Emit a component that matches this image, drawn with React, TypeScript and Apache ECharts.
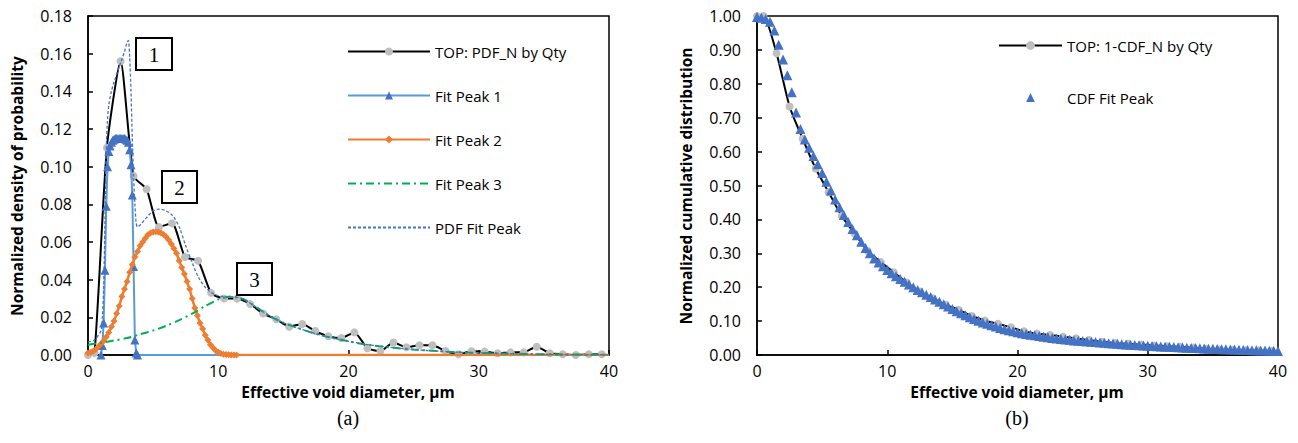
import React, { useEffect, useRef } from "react";
import * as echarts from "echarts";

// ---------- Left chart (a) data ----------
const pdfX = [0, 0.5, 1.45, 2.5, 3.5, 4.5, 5.45, 6.45, 7.45, 8.45, 9.45, 10.45, 11.45, 12.45, 13.45, 14.45, 15.45, 16.45, 17.45, 18.45, 19.45, 20.45, 21.45, 22.45, 23.45, 24.45, 25.45, 26.45, 27.45, 28.45, 29.45, 30.45, 31.45, 32.45, 33.45, 34.45, 35.45, 36.45, 37.45, 38.45, 39.45];
const pdfY = [0, 0.001, 0.110, 0.156, 0.095, 0.088, 0.068, 0.070, 0.052, 0.050, 0.033, 0.030, 0.030, 0.027, 0.022, 0.019, 0.015, 0.0165, 0.0127, 0.010, 0.009, 0.012, 0.0036, 0.0021, 0.0066, 0.0041, 0.0052, 0.0052, 0.0021, 0.0004, 0.002, 0.0018, 0.0009, 0.0014, 0.0014, 0.0044, 0.0009, 0.0004, 0.0, 0.0004, 0.0004];

const peak1X = [1.0, 1.1, 1.2, 1.3, 1.4, 1.5, 1.6, 1.7, 1.8, 1.9, 2.0, 2.1, 2.2, 2.3, 2.4, 2.5, 2.6, 2.7, 2.8, 2.9, 3.0, 3.1, 3.2, 3.3, 3.4, 3.5, 3.6, 3.7, 3.8, 40];
const peak1Y = [0, 0.005, 0.017, 0.045, 0.079, 0.100, 0.108, 0.111, 0.113, 0.114, 0.1145, 0.115, 0.115, 0.115, 0.115, 0.115, 0.115, 0.115, 0.115, 0.1145, 0.114, 0.113, 0.109, 0.101, 0.085, 0.047, 0.008, 0.001, 0, 0];

const peak2Start = 0;
const peak2Step = 0.2;
const peak2Y = [0.001, 0.0015, 0.002, 0.003, 0.0045, 0.006, 0.0075, 0.0095, 0.012, 0.015, 0.018, 0.022, 0.026, 0.031, 0.035, 0.039, 0.044, 0.048, 0.052, 0.055, 0.058, 0.060, 0.062, 0.0638, 0.0648, 0.0653, 0.0655, 0.0653, 0.0648, 0.064, 0.0628, 0.061, 0.059, 0.0565, 0.054, 0.050, 0.0465, 0.043, 0.039, 0.035, 0.030, 0.025, 0.021, 0.017, 0.014, 0.0105, 0.008, 0.0055, 0.0038, 0.0024, 0.0015, 0.0008, 0.0004, 0.0002, 0.0001, 0, 0, 0];
const peak2TailX = 40;
const peak2TailY = 0;

const peak3X = [0, 1, 2, 3, 4, 5, 6, 7, 8, 9, 10, 10.5, 11, 11.5, 12, 13, 14, 15, 16, 17, 18, 19, 20, 21, 22, 23, 24, 25, 26, 27, 28, 29, 30, 32, 34, 36, 38, 40];
const peak3Y = [0.0055, 0.0065, 0.0077, 0.009, 0.011, 0.013, 0.0155, 0.0185, 0.022, 0.026, 0.0295, 0.0305, 0.031, 0.0305, 0.0295, 0.025, 0.0205, 0.0172, 0.0146, 0.0123, 0.0103, 0.0087, 0.0073, 0.006, 0.005, 0.0042, 0.0035, 0.0029, 0.0024, 0.002, 0.0016, 0.0013, 0.0011, 0.0008, 0.0005, 0.0003, 0.0002, 0.0001];

const pdfFitX = [0, 0.5, 1.0, 1.1, 1.2, 1.3, 1.4, 1.5, 1.6, 1.8, 2.0, 2.2, 2.4, 2.6, 2.8, 3.0, 3.1, 3.2, 3.3, 3.4, 3.5, 3.6, 3.7, 3.8, 4.0, 4.5, 5.0, 5.5, 6.0, 6.5, 7.0, 7.5, 8.0, 8.5, 9.0, 9.5, 10, 10.5, 11, 11.5, 12, 13, 14, 15, 16, 17, 18, 19, 20, 21, 22, 23, 24, 25, 26, 27, 28, 29, 30, 32, 34, 36, 38, 40];
const pdfFitY = [0.007, 0.008, 0.013, 0.02, 0.035, 0.07, 0.11, 0.125, 0.133, 0.140, 0.145, 0.149, 0.153, 0.157, 0.161, 0.166, 0.167, 0.158, 0.14, 0.115, 0.095, 0.08, 0.07, 0.068, 0.069, 0.073, 0.0765, 0.0775, 0.0765, 0.074, 0.068, 0.058, 0.049, 0.041, 0.036, 0.033, 0.0315, 0.031, 0.031, 0.0305, 0.0295, 0.025, 0.0205, 0.0172, 0.0146, 0.0123, 0.0103, 0.0087, 0.0073, 0.006, 0.005, 0.0042, 0.0035, 0.0029, 0.0024, 0.002, 0.0016, 0.0013, 0.0011, 0.0008, 0.0005, 0.0003, 0.0002, 0.0001];

// ---------- Right chart (b) data ----------
const cdfX = [0, 0.5, 1.5, 2.5, 3.5, 4.5, 5.5, 6.5, 7.5, 8.5, 9.5, 10.5, 11.5, 12.5, 13.5, 14.5, 15.5, 16.5, 17.5, 18.5, 19.5, 20.5, 21.5, 22.5, 23.5, 24.5, 25.5, 26.5, 27.5, 28.5, 29.5, 30.5, 31.5, 32.5, 33.5, 34.5, 35.5, 36.5, 37.5, 38.5, 39.5];
const cdfY = [1.0, 1.0, 0.89, 0.733, 0.638, 0.55, 0.48, 0.41, 0.358, 0.307, 0.274, 0.244, 0.214, 0.187, 0.167, 0.148, 0.133, 0.115, 0.102, 0.092, 0.082, 0.070, 0.063, 0.059, 0.054, 0.049, 0.044, 0.039, 0.035, 0.033, 0.031, 0.028, 0.026, 0.024, 0.022, 0.018, 0.016, 0.015, 0.014, 0.013, 0.012];

const cdfFitStart = 0;
const cdfFitStep = 1 / 3;
const cdfFitY = [
  0.997, 0.995, 0.991, 0.983, 0.957, 0.915, 0.872, 0.825, 0.775, 0.715,
  0.667, 0.636, 0.611, 0.587, 0.563, 0.537, 0.511, 0.485, 0.459, 0.436,
  0.413, 0.392, 0.372, 0.353, 0.334, 0.316, 0.300, 0.285, 0.273, 0.262,
  0.251, 0.241, 0.232, 0.224, 0.216, 0.208, 0.200, 0.192, 0.185, 0.178,
  0.171, 0.164, 0.157, 0.150, 0.143, 0.136, 0.129, 0.123, 0.117, 0.111,
  0.106, 0.101, 0.096, 0.092, 0.088, 0.084, 0.080, 0.076, 0.073, 0.070,
  0.067, 0.064, 0.062, 0.060, 0.058, 0.056, 0.054, 0.052, 0.050, 0.049,
  0.047, 0.046, 0.045, 0.043, 0.042, 0.041, 0.040, 0.039, 0.038, 0.037,
  0.036, 0.035, 0.034, 0.033, 0.032, 0.031, 0.030, 0.0295, 0.029, 0.028,
  0.027, 0.0265, 0.026, 0.025, 0.0245, 0.024, 0.0233, 0.0227, 0.022, 0.0214,
  0.0208, 0.0203, 0.0198, 0.0193, 0.0188, 0.0183, 0.0178, 0.0173, 0.0168, 0.0164,
  0.016, 0.0155, 0.0151, 0.0147, 0.0143, 0.0139, 0.0135, 0.0131, 0.0127, 0.0123,
  0.012,
];

const xTicks = { min: 0, max: 40, interval: 10 };
const leftY = { min: 0, max: 0.18, interval: 0.02 };
const rightY = { min: 0, max: 1, interval: 0.1 };

const FONT = '"Open Sans", "Noto Sans", sans-serif';
const SERIF = '"Liberation Serif", "DejaVu Serif", serif';

const zip = (xs: number[], ys: number[]) => xs.map((x, i) => [x, ys[i]]);
const stepped = (start: number, step: number, ys: number[]) => ys.map((y, i) => [start + i * step, y]);

function axisX(gridIndex: number) {
  return {
    type: "value",
    gridIndex,
    min: xTicks.min,
    max: xTicks.max,
    interval: xTicks.interval,
    splitLine: { show: false },
    axisLine: { show: true, lineStyle: { color: "#000", width: 1.5 } },
    axisTick: { show: true, inside: true, length: 5, lineStyle: { color: "#000", width: 1.5 } },
    axisLabel: { color: "#000", fontFamily: FONT, fontSize: 16, margin: 8 },
  };
}
function axisY(gridIndex: number, r: { min: number; max: number; interval: number }) {
  return {
    type: "value",
    gridIndex,
    min: r.min,
    max: r.max,
    interval: r.interval,
    splitLine: { show: false },
    axisLine: { show: true, lineStyle: { color: "#000", width: 1.5 } },
    axisTick: { show: true, inside: true, length: 5, lineStyle: { color: "#000", width: 1.5 } },
    axisLabel: { color: "#000", fontFamily: FONT, fontSize: 16, margin: 16, formatter: (v: number) => v.toFixed(2) },
  };
}

function textEl(x: number, y: number, text: string, font: string, rotation = 0) {
  return {
    type: "text",
    x,
    y,
    rotation,
    style: {
      text,
      font,
      fill: "#000",
      align: "center",
      verticalAlign: "middle",
      textAlign: "center",
      textVerticalAlign: "middle",
    },
    z: 100,
  };
}

function boxEl(cx: number, cy: number, w: number, h: number, label: string) {
  return [
    {
      type: "rect",
      shape: { x: cx - w / 2, y: cy - h / 2, width: w, height: h },
      style: { fill: "#fff", stroke: "#000", lineWidth: 2 },
      z: 100,
    },
    textEl(cx, cy + 1, label, `21px ${SERIF}`),
  ];
}

export default function App() {
  const ref = useRef<HTMLDivElement>(null);
  useEffect(() => {
    if (!ref.current) return;
    const chart = echarts.init(ref.current, null, { renderer: "svg" });

    const peak1Data = zip(peak1X, peak1Y).map((p) =>
      p[0] === 40 ? { value: p, symbol: "none" } : { value: p }
    );
    const peak2Data: any[] = stepped(peak2Start, peak2Step, peak2Y).map((p) => ({ value: p }));
    peak2Data.push({ value: [peak2TailX, peak2TailY], symbol: "none" });

    const option: any = {
      animation: false,
      backgroundColor: "#fff",
      grid: [
        { left: 88, top: 16, width: 521, height: 339, show: true, borderColor: "#000", borderWidth: 1.5, containLabel: false },
        { left: 757, top: 16, width: 521, height: 339, show: true, borderColor: "#000", borderWidth: 1.5, containLabel: false },
      ],
      xAxis: [axisX(0), axisX(1)],
      yAxis: [axisY(0, leftY), axisY(1, rightY)],
      legend: [
        {
          orient: "vertical",
          left: 342,
          top: 39,
          itemWidth: 82,
          itemHeight: 10,
          itemGap: 29,
          textStyle: { fontFamily: FONT, fontSize: 15, color: "#000" },
          data: [
            "TOP: PDF_N by Qty",
            "Fit Peak 1",
            "Fit Peak 2",
            { name: "Fit Peak 3", itemStyle: { opacity: 0 } },
            { name: "PDF Fit Peak", itemStyle: { opacity: 0 } },
          ],
        },
        {
          orient: "vertical",
          left: 993,
          top: 33,
          itemWidth: 63,
          itemHeight: 11,
          itemGap: 37,
          textStyle: { fontFamily: FONT, fontSize: 15, color: "#000" },
          data: ["TOP: 1-CDF_N by Qty", "CDF Fit Peak"],
        },
      ],
      series: [
        {
          name: "TOP: PDF_N by Qty",
          type: "line",
          xAxisIndex: 0,
          yAxisIndex: 0,
          data: zip(pdfX, pdfY),
          smooth: 0.2,
          symbol: "circle",
          symbolSize: 8,
          showSymbol: true,
          lineStyle: { color: "#000", width: 2 },
          itemStyle: { color: "#BFBFBF", borderWidth: 0 },
          z: 2,
        },
        {
          name: "Fit Peak 1",
          type: "line",
          xAxisIndex: 0,
          yAxisIndex: 0,
          data: peak1Data,
          symbol: "triangle",
          symbolSize: 9,
          showSymbol: true,
          lineStyle: { color: "#5B9BD5", width: 2 },
          itemStyle: { color: "#4472C4", borderWidth: 0 },
          z: 3,
        },
        {
          name: "Fit Peak 2",
          type: "line",
          xAxisIndex: 0,
          yAxisIndex: 0,
          data: peak2Data,
          symbol: "diamond",
          symbolSize: 7,
          showSymbol: true,
          lineStyle: { color: "#ED7D31", width: 2.5 },
          itemStyle: { color: "#ED7D31", borderWidth: 0 },
          z: 4,
        },
        {
          name: "Fit Peak 3",
          type: "line",
          xAxisIndex: 0,
          yAxisIndex: 0,
          data: zip(peak3X, peak3Y),
          smooth: 0.3,
          symbol: "none",
          lineStyle: { color: "#00B050", width: 2, type: [8, 4, 2, 4] },
          itemStyle: { color: "#00B050" },
          z: 5,
        },
        {
          name: "PDF Fit Peak",
          type: "line",
          xAxisIndex: 0,
          yAxisIndex: 0,
          data: zip(pdfFitX, pdfFitY),
          smooth: 0.3,
          symbol: "none",
          lineStyle: { color: "#4472C4", width: 1.3, type: [3, 2] },
          itemStyle: { color: "#4472C4" },
          z: 6,
        },
        {
          name: "TOP: 1-CDF_N by Qty",
          type: "line",
          xAxisIndex: 1,
          yAxisIndex: 1,
          data: zip(cdfX, cdfY),
          smooth: 0.2,
          symbol: "circle",
          symbolSize: 8,
          showSymbol: true,
          lineStyle: { color: "#000", width: 2 },
          itemStyle: { color: "#BFBFBF", borderWidth: 0 },
          z: 2,
        },
        {
          name: "CDF Fit Peak",
          type: "line",
          xAxisIndex: 1,
          yAxisIndex: 1,
          data: stepped(cdfFitStart, cdfFitStep, cdfFitY),
          symbol: "triangle",
          symbolSize: 10,
          showSymbol: true,
          lineStyle: { color: "#4472C4", width: 0, opacity: 0 },
          itemStyle: { color: "#4472C4", borderWidth: 0 },
          z: 3,
        },
      ],
      graphic: [
        textEl(17, 186, "Normalized density of probability", `bold 15.5px ${FONT}`, Math.PI / 2),
        textEl(686, 186, "Normalized cumulative distribution", `bold 15.5px ${FONT}`, Math.PI / 2),
        textEl(348, 392, "Effective void diameter, µm", `bold 15.5px ${FONT}`),
        textEl(1017, 392, "Effective void diameter, µm", `bold 15.5px ${FONT}`),
        textEl(348, 418, "(a)", `20px ${SERIF}`),
        textEl(1017, 418, "(b)", `20px ${SERIF}`),
        ...boxEl(154, 54, 36, 32, "1"),
        ...boxEl(179.5, 187, 35, 32, "2"),
        ...boxEl(254.5, 279, 35, 32, "3"),
      ],
    };
    chart.setOption(option);
    return () => chart.dispose();
  }, []);
  return (
    <div
      ref={ref}
      style={{ position: "fixed", left: 0, top: 0, width: 1298, height: 443, background: "#fff" }}
    />
  );
}
